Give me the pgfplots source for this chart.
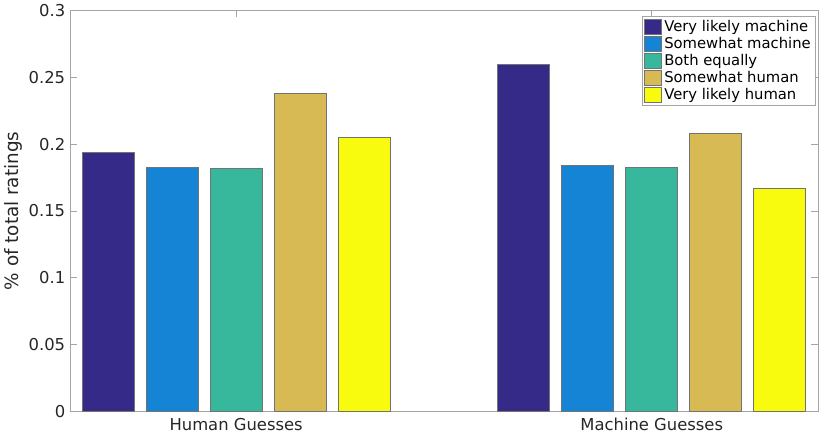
\documentclass[border=0pt]{standalone}
\usepackage{fontspec}
\setmainfont{DejaVu Sans}
\usepackage{pgfplots}
\pgfplotsset{compat=1.18}
\definecolor{pone}{RGB}{53,42,135}
\definecolor{ptwo}{RGB}{21,132,212}
\definecolor{pthree}{RGB}{55,184,157}
\definecolor{pfour}{RGB}{216,186,85}
\definecolor{pfive}{RGB}{249,251,14}
\definecolor{txt}{RGB}{38,38,38}
\definecolor{axgray}{RGB}{165,165,165}
\tikzset{
  mbar/.style={ybar, fill=#1, draw=black!55, line width=0.5pt},
}
\begin{document}
\begin{tikzpicture}
\begin{axis}[
  scale only axis, width=561.75pt, height=300.75pt,
  xmin=0.6, xmax=2.4, ymin=0, ymax=0.3,
  xtick={1,2}, xticklabels={Human Guesses, Machine Guesses},
  ytick={0,0.05,0.1,0.15,0.2,0.25,0.3},
  yticklabels={0,0.05,0.1,0.15,0.2,0.25,0.3},
  tick align=inside, major tick length=5pt,
  axis line style={axgray}, tick style={axgray, line width=0.5pt},
  ticklabel style={font=\fontsize{12.3}{14}\selectfont, text=txt},
  xticklabel style={yshift=-1.5pt},
  ylabel={\% of total ratings},
  ylabel style={font=\fontsize{13.8}{16}\selectfont, text=txt, yshift=-2pt},
  bar width=0.125,
  legend style={at={(0.996,0.987)}, anchor=north east, draw=axgray,
    font=\fontsize{11.1}{13}\selectfont, text=black,
    inner xsep=1pt, inner ysep=1pt, row sep=-1.2pt},
  legend cell align=left,
  legend image code/.code={\draw[#1] (0pt,-5.6pt) rectangle (13pt,5.6pt);},
]
\addplot[mbar=pone, bar shift=-0.308] coordinates {(1,0.1935) (2,0.2595)};
\addplot[mbar=ptwo, bar shift=-0.154] coordinates {(1,0.1825) (2,0.1838)};
\addplot[mbar=pthree, bar shift=0] coordinates {(1,0.1818) (2,0.1825)};
\addplot[mbar=pfour, bar shift=0.154] coordinates {(1,0.2378) (2,0.2078)};
\addplot[mbar=pfive, bar shift=0.308] coordinates {(1,0.2048) (2,0.1668)};
\legend{Very likely machine, Somewhat machine, Both equally, Somewhat human, Very likely human}
\end{axis}
% white margins as in the reference
\path (current axis.north east) ++(9pt,1pt);
\path (current axis.south east) ++(0pt,-22pt);
\end{tikzpicture}
\end{document}
